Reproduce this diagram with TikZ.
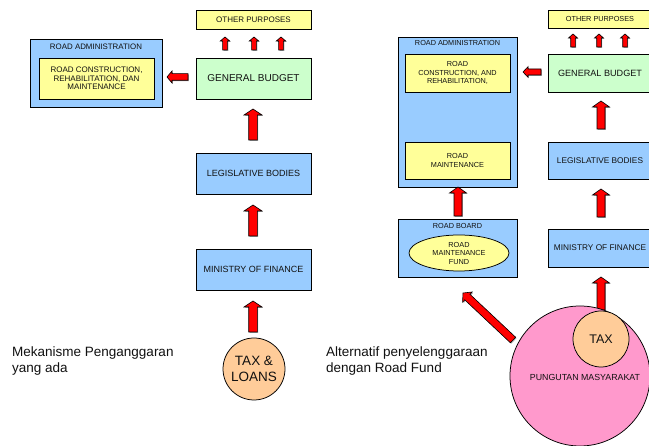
\documentclass[tikz,border=0pt]{standalone}
\usepackage{fontspec}
\setmainfont{Liberation Sans}
\usetikzlibrary{calc,shapes.geometric}

\definecolor{bluec}{HTML}{99CCFF}
\definecolor{yellowc}{HTML}{FFFF99}
\definecolor{greenc}{HTML}{CCFFCC}
\definecolor{orangec}{HTML}{FFCC99}
\definecolor{pinkc}{HTML}{FF99CC}
\definecolor{inkc}{HTML}{111111}

\newcommand\fsz[2]{\fontsize{#1}{#2}\selectfont}

% block arrow from #1 (tail) to #2 (tip):
% #3 half shaft width, #4 half head width, #5 head length
\newcommand\blockarrow[5]{%
  \coordinate (hb) at ($(#2)!#5!(#1)$);
  \begin{scope}[transform canvas={shift={(0.9pt,-0.9pt)}}]
    \fill[arrowshade] ($(#1)!#3!-90:(#2)$) -- ($(hb)!#3!-90:(#2)$) -- ($(hb)!#4!-90:(#2)$) -- (#2)
      -- ($(hb)!#4!90:(#2)$) -- ($(hb)!#3!90:(#2)$) -- ($(#1)!#3!90:(#2)$) -- cycle;
  \end{scope}
  \filldraw[arrowbody] ($(#1)!#3!-90:(#2)$) -- ($(hb)!#3!-90:(#2)$) -- ($(hb)!#4!-90:(#2)$) -- (#2)
    -- ($(hb)!#4!90:(#2)$) -- ($(hb)!#3!90:(#2)$) -- ($(#1)!#3!90:(#2)$) -- cycle;
}

\tikzset{
  box/.style={draw=black, line width=0.75pt, inner sep=1pt, align=center, text=inkc},
  arrowbody/.style={fill=red, draw=black, line width=0.6pt, line join=miter},
  arrowshade/.style={fill=black!35},
  caption/.style={align=left, anchor=west, inner sep=0pt, text=inkc, font=\fsz{13.5}{16}},
}

\begin{document}
\begin{tikzpicture}[x=1pt,y=1pt]
\useasboundingbox (0,0) rectangle (649,446);
\clip (0,0) rectangle (649,446);
\fill[white] (0,0) rectangle (649,446);

% ---------------- current budgeting mechanism ----------------
\node[box, fill=yellowc, minimum width=115pt, minimum height=19pt, font=\fsz{8}{9}] (op1) at (253.5,426.5) {OTHER PURPOSES};
\node[box, fill=bluec, minimum width=132pt, minimum height=68pt] (ra1) at (96,373) {};
\node[text=inkc, font=\fsz{7.9}{9}] (ra1l) at (96,399) {ROAD ADMINISTRATION};
\node[box, fill=yellowc, minimum width=115pt, minimum height=41pt, font=\fsz{8}{8.7}] (rc1) at (96.5,367.5) {ROAD CONSTRUCTION,\\REHABILITATION, DAN\\MAINTENANCE};
\node[box, fill=greenc, minimum width=115pt, minimum height=41pt, font=\fsz{10}{11}] (gb1) at (253.5,367.5) {GENERAL BUDGET};
\node[box, fill=bluec, minimum width=115pt, minimum height=41pt, font=\fsz{9}{10}] (lb1) at (253.5,272.5) {LEGISLATIVE BODIES};
\node[box, fill=bluec, minimum width=115pt, minimum height=41pt, font=\fsz{9}{10}] (mf1) at (253.5,176.5) {MINISTRY OF FINANCE};
\node[circle, draw=black, line width=0.75pt, fill=orangec, minimum size=62pt, inner sep=0pt, align=center, text=inkc, font=\fsz{13.5}{16}] (tl) at (254,77) {TAX \&\\LOANS};
\node[caption] (cap1) at (12,85) {Mekanisme Penganggaran\\yang ada};

% arrow ends
\coordinate (s1at) at (225,396); \coordinate (s1ah) at (225,409);
\coordinate (s1bt) at (254,396); \coordinate (s1bh) at (254,409);
\coordinate (s1ct) at (281,396); \coordinate (s1ch) at (281,409);
\coordinate (h1t) at (188,369);  \coordinate (h1h) at (167,369);
\coordinate (v1t) at (253,306);  \coordinate (v1h) at (253,337);
\coordinate (v2t) at (253,210);  \coordinate (v2h) at (253,241);
\coordinate (v3t) at (253,114);  \coordinate (v3h) at (253,145);

\blockarrow{s1at}{s1ah}{2.4pt}{4.7pt}{4pt}
\blockarrow{s1bt}{s1bh}{2.4pt}{4.7pt}{4pt}
\blockarrow{s1ct}{s1ch}{2.4pt}{4.7pt}{4pt}
\blockarrow{h1t}{h1h}{3.3pt}{6pt}{5pt}
\blockarrow{v1t}{v1h}{4.3pt}{9pt}{6pt}
\blockarrow{v2t}{v2h}{4.3pt}{9pt}{6pt}
\blockarrow{v3t}{v3h}{4.3pt}{9pt}{6pt}

% ---------------- alternative with a road fund ----------------
\node[box, fill=yellowc, minimum width=104pt, minimum height=18pt, font=\fsz{7.3}{8.5}] (op2) at (600,427) {OTHER PURPOSES};
\node[box, fill=bluec, minimum width=119pt, minimum height=150pt] (ra2) at (457.5,334) {};
\node[text=inkc, font=\fsz{7.3}{8.5}] (ra2l) at (457.5,403) {ROAD ADMINISTRATION};
\node[box, fill=yellowc, minimum width=105pt, minimum height=38pt, font=\fsz{7.3}{8.5}] (rc2) at (457.5,373) {ROAD\\CONSTRUCTION, AND\\REHABILITATION,};
\node[box, fill=yellowc, minimum width=105pt, minimum height=37pt, font=\fsz{7.3}{8.5}] (rm2) at (457.5,285.5) {ROAD\\MAINTENANCE};
\node[box, fill=greenc, minimum width=104pt, minimum height=38pt, font=\fsz{9.1}{10}] (gb2) at (600,373) {GENERAL BUDGET};
\node[box, fill=bluec, minimum width=104pt, minimum height=37pt, font=\fsz{8.3}{9.5}] (lb2) at (600,285.5) {LEGISLATIVE BODIES};
\node[box, fill=bluec, minimum width=104pt, minimum height=38pt, font=\fsz{8.3}{9.5}] (mf2) at (600,198) {MINISTRY OF FINANCE};
\node[box, fill=bluec, minimum width=119pt, minimum height=58pt] (rb2) at (457.5,198) {};
\node[text=inkc, font=\fsz{7.3}{8.5}] (rb2l) at (457.5,220) {ROAD BOARD};
\node[ellipse, draw=black, line width=0.75pt, fill=yellowc, minimum width=100pt, minimum height=36pt, inner sep=0pt, align=center, text=inkc, font=\fsz{7.3}{8.5}] (rmf) at (459,193) {ROAD\\MAINTENANCE\\FUND};
\node[caption] (cap2) at (326,85) {Alternatif penyelenggaraan\\dengan Road Fund};

\coordinate (s2at) at (573,399); \coordinate (s2ah) at (573,412);
\coordinate (s2bt) at (599,399); \coordinate (s2bh) at (599,412);
\coordinate (s2ct) at (625,399); \coordinate (s2ch) at (625,412);
\coordinate (h2t) at (541,374);  \coordinate (h2h) at (523,374);
\coordinate (v4t) at (601,317);  \coordinate (v4h) at (601,345);
\coordinate (v5t) at (601,229);  \coordinate (v5h) at (601,257);
\coordinate (v6t) at (601,136);  \coordinate (v6h) at (601,169);
\coordinate (v7t) at (458,230);  \coordinate (v7h) at (458,259);
\coordinate (d1t) at (513,106);  \coordinate (d1h) at (463,153);

\blockarrow{s2at}{s2ah}{2.3pt}{4.5pt}{4pt}
\blockarrow{s2bt}{s2bh}{2.3pt}{4.5pt}{4pt}
\blockarrow{s2ct}{s2ch}{2.3pt}{4.5pt}{4pt}
\blockarrow{h2t}{h2h}{3pt}{5.3pt}{5pt}
\blockarrow{v4t}{v4h}{4pt}{8.5pt}{6pt}
\blockarrow{v5t}{v5h}{4pt}{8.5pt}{6pt}
\blockarrow{v6t}{v6h}{4pt}{8.5pt}{6pt}
\blockarrow{v7t}{v7h}{4pt}{8.5pt}{6pt}
\blockarrow{d1t}{d1h}{3.8pt}{7pt}{6pt}

\node[circle, draw=black, line width=0.75pt, fill=pinkc, minimum size=140pt, inner sep=0pt] (pm) at (580,70) {};
\node[circle, draw=black, line width=0.75pt, fill=orangec, minimum size=56pt, inner sep=0pt, text=inkc, font=\fsz{12.5}{14}] (tax) at (601,107) {TAX};
\node[text=inkc, font=\fsz{8.8}{10}] (pml) at (585,69) {PUNGUTAN MASYARAKAT};
\end{tikzpicture}
\end{document}
